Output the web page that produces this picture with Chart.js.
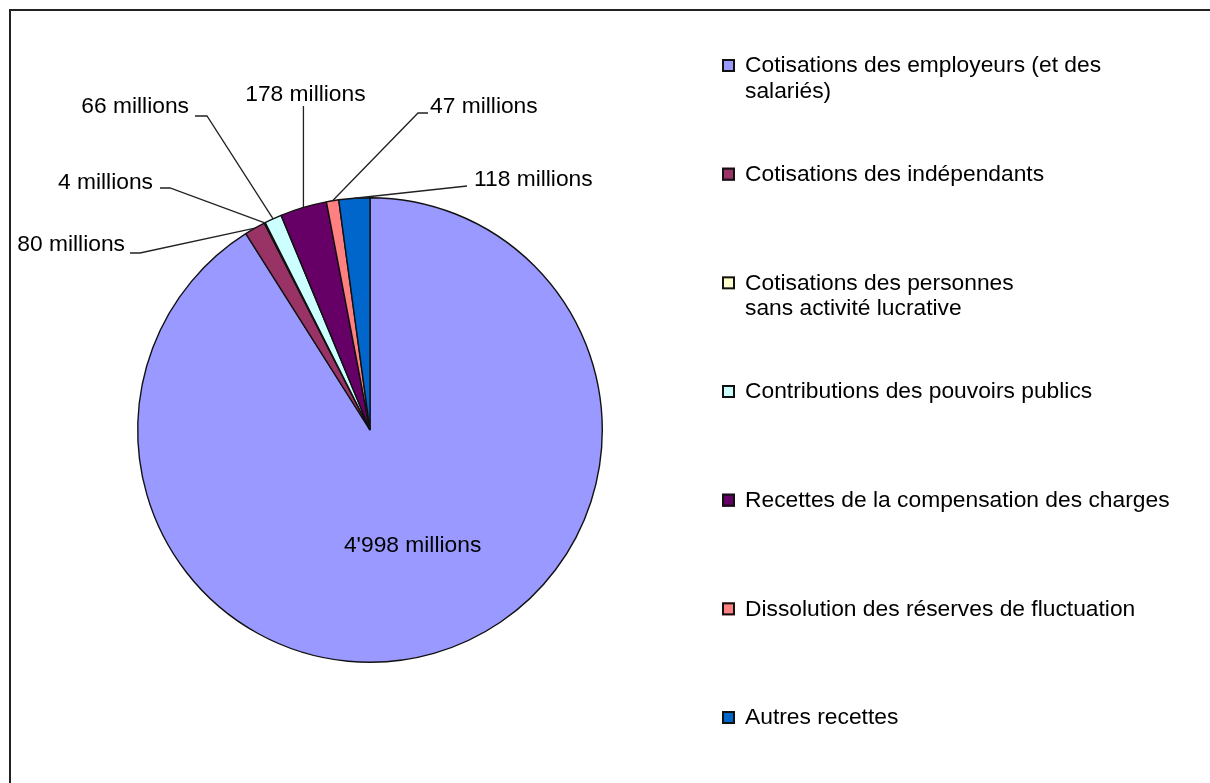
<!DOCTYPE html>
<html lang="fr">
<head>
    <meta charset="UTF-8">
    <title>Recettes</title>
    <script src="https://cdn.jsdelivr.net/npm/chart.js"></script>
    <style>
        body {
            margin: 0;
            background: #fff;
        }
        #wrap {
            position: relative;
            width: 1210px;
            height: 783px;
        }
    </style>
</head>
<body>
    <div id="wrap">
        <canvas id="myChart" width="1210" height="783"></canvas>
    </div>

    <script>
// categories (multi-line where the original legend breaks)
const categories = [
    ['Cotisations des employeurs (et des', 'salariés)'],
    ['Cotisations des indépendants'],
    ['Cotisations des personnes', 'sans activité lucrative'],
    ['Contributions des pouvoirs publics'],
    ['Recettes de la compensation des charges'],
    ['Dissolution des réserves de fluctuation'],
    ['Autres recettes']
];
// values in millions
const values = [4998, 80, 4, 66, 178, 47, 118];
const valueLabels = ["4'998 millions", '80 millions', '4 millions', '66 millions', '178 millions', '47 millions', '118 millions'];
const colors = ['#9999FF', '#993366', '#FFFFCC', '#CCFFFF', '#660066', '#FF8080', '#0066CC'];

const FONT = '22.8px "Liberation Sans", Arial, sans-serif';

// callout layout for the outside labels, relative to pie centre:
// [elbowDx, elbowDy, tail, textDx, textDy, align]  (null = label inside)
const callouts = [
    null,
    [-230, -177, -10, -5, -8, 'right'],
    [-200, -242, -10, -7, -5, 'right'],
    [-163, -314, -12, -6, -9, 'right'],
    [null, -324, 0, 2, -11, 'center'],
    [48, -317, 10, 2, -6, 'left'],
    [97, -244, 0, 7, -6, 'left']
];

const framePlugin = {
    id: 'frame',
    beforeDraw(chart) {
        const ctx = chart.ctx;
        ctx.save();
        ctx.fillStyle = '#fff';
        ctx.fillRect(0, 0, chart.width, chart.height);
        ctx.strokeStyle = '#222';
        ctx.lineWidth = 2;
        ctx.beginPath();
        ctx.moveTo(10, chart.height + 5);
        ctx.lineTo(10, 10);
        ctx.lineTo(chart.width + 5, 10);
        ctx.stroke();
        ctx.restore();
    }
};

const labelPlugin = {
    id: 'pieLabels',
    afterDatasetsDraw(chart) {
        const ctx = chart.ctx;
        const meta = chart.getDatasetMeta(0);
        ctx.save();
        ctx.font = FONT;
        ctx.fillStyle = '#000';
        ctx.strokeStyle = '#222';
        ctx.lineWidth = 1.3;
        ctx.textBaseline = 'middle';
        meta.data.forEach((arc, i) => {
            const p = arc.getProps(['x', 'y', 'startAngle', 'endAngle', 'outerRadius'], true);
            const mid = (p.startAngle + p.endAngle) / 2;
            const c = callouts[i];
            if (!c) {
                const r = p.outerRadius * 0.52;
                ctx.textAlign = 'center';
                ctx.fillText(valueLabels[i], p.x + r * Math.cos(mid) + 9, p.y + r * Math.sin(mid));
                return;
            }
            const ax = p.x + p.outerRadius * Math.cos(mid);
            const ay = p.y + p.outerRadius * Math.sin(mid);
            const ex = c[0] === null ? ax : p.x + c[0];
            const ey = p.y + c[1];
            const tx = ex + c[2];
            ctx.beginPath();
            ctx.moveTo(ax, ay);
            ctx.lineTo(ex, ey);
            ctx.lineTo(tx, ey);
            ctx.stroke();
            ctx.textAlign = c[5];
            ctx.fillText(valueLabels[i], tx + c[3], ey + c[4]);
        });
        ctx.restore();
    }
};

const legendPlugin = {
    id: 'sideLegend',
    afterDraw(chart) {
        const ctx = chart.ctx;
        const labels = chart.data.labels;
        const bg = chart.data.datasets[0].backgroundColor;
        const left = 722, top = 66, step = 108.67, lineH = 25.5;
        ctx.save();
        ctx.font = FONT;
        ctx.textBaseline = 'middle';
        ctx.textAlign = 'left';
        labels.forEach((lines, i) => {
            const y = top + i * step;
            ctx.fillStyle = bg[i];
            ctx.fillRect(left, y - 7, 13, 13);
            ctx.strokeStyle = '#111';
            ctx.lineWidth = 2;
            ctx.strokeRect(left + 1, y - 6, 11, 11);
            ctx.fillStyle = '#000';
            lines.forEach((t, j) => {
                ctx.fillText(t, left + 23, y + j * lineH);
            });
        });
        ctx.restore();
    }
};

const ctx = document.getElementById('myChart').getContext('2d');
new Chart(ctx, {
    type: 'pie',
    data: {
        labels: categories,
        datasets: [{
            data: values,
            backgroundColor: colors,
            borderColor: '#111',
            borderWidth: 1.4
        }]
    },
    options: {
        responsive: false,
        animation: false,
        layout: {
            padding: { left: 137, right: 607, top: 197, bottom: 120 }
        },
        plugins: {
            legend: { display: false },
            tooltip: { enabled: false }
        }
    },
    plugins: [framePlugin, labelPlugin, legendPlugin]
});
    </script>
</body>
</html>
